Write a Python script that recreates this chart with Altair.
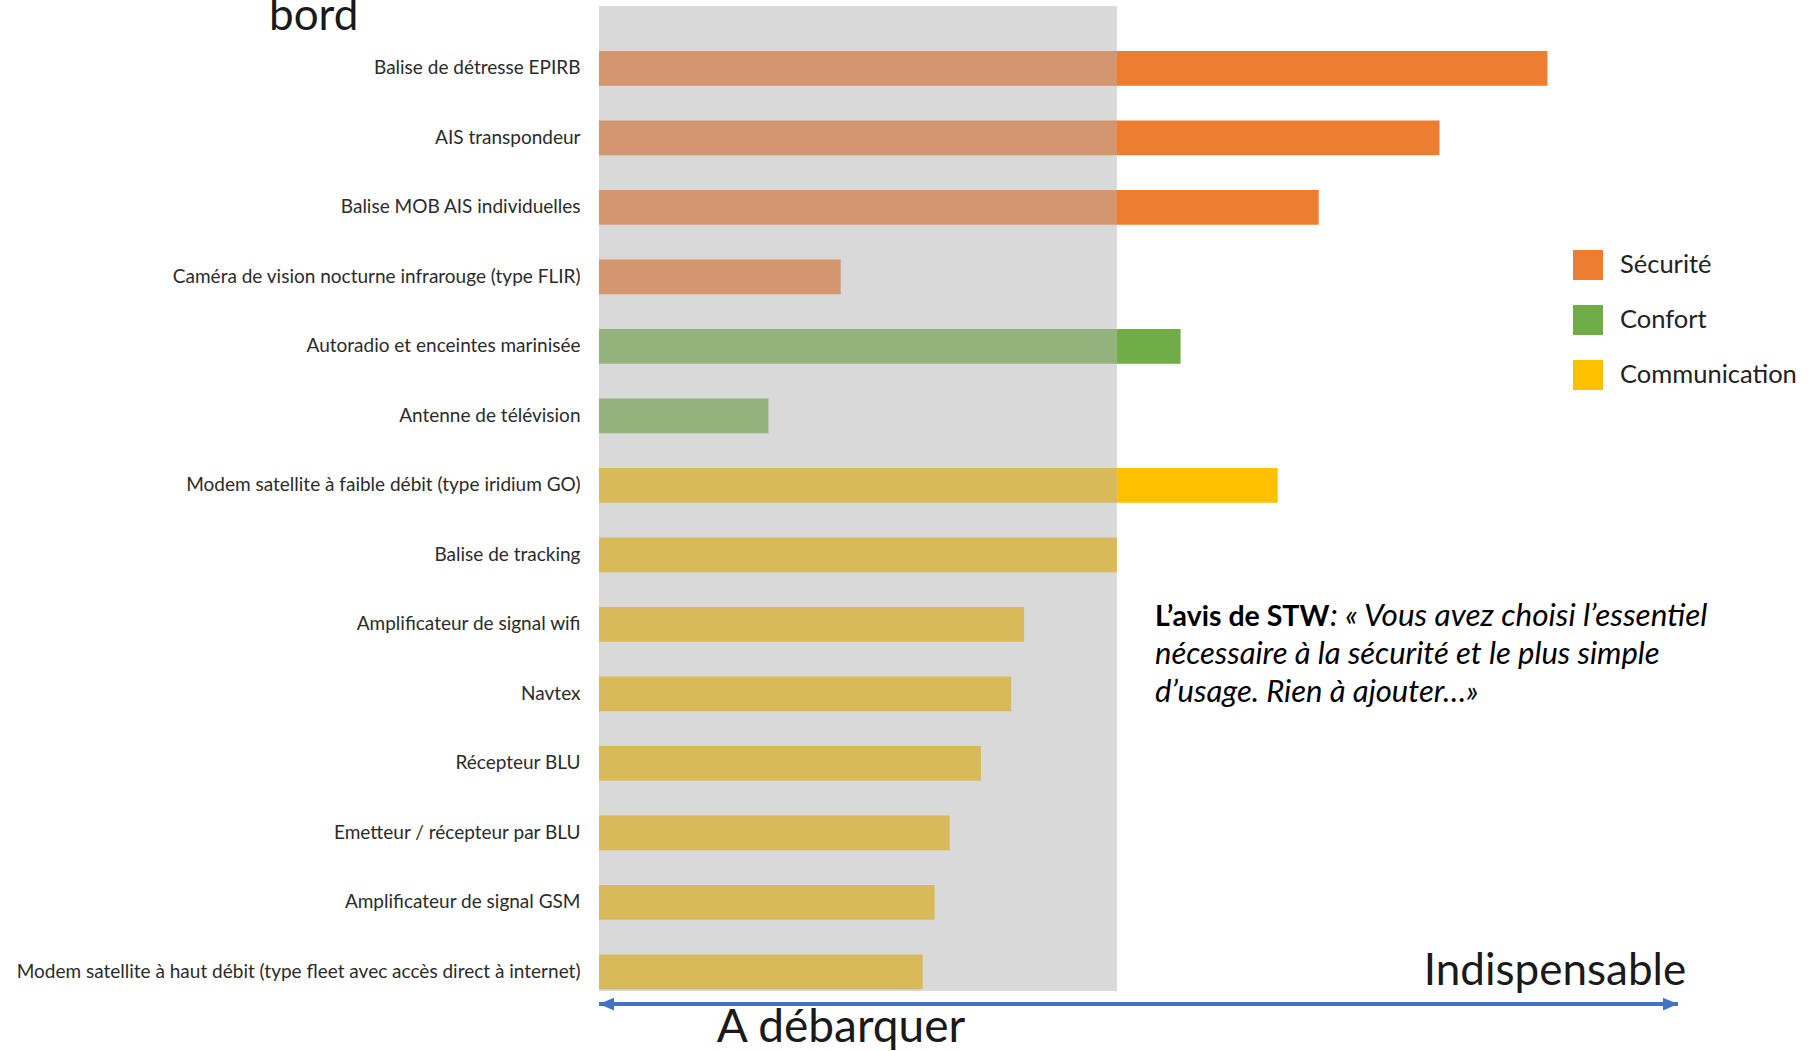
import altair as alt
import pandas as pd

# ---- data -------------------------------------------------------------
items = [
    "Balise de détresse EPIRB",
    "AIS transpondeur",
    "Balise MOB AIS individuelles",
    "Caméra de vision nocturne infrarouge (type FLIR)",
    "Autoradio et enceintes marinisée",
    "Antenne de télévision",
    "Modem satellite à faible débit (type iridium GO)",
    "Balise de tracking",
    "Amplificateur de signal wifi",
    "Navtex",
    "Récepteur BLU",
    "Emetteur / récepteur par BLU",
    "Amplificateur de signal GSM",
    "Modem satellite à haut débit (type fleet avec accès direct à internet)",
]
groups = [
    "Sécurité", "Sécurité", "Sécurité", "Sécurité",
    "Confort", "Confort",
    "Communication", "Communication", "Communication", "Communication",
    "Communication", "Communication", "Communication", "Communication",
]
scores = [87.9, 77.9, 66.7, 22.4, 53.9, 15.7, 62.9, 48.0, 39.4, 38.2, 35.4, 32.5, 31.1, 30.0]
threshold = 48.0          # end of the grey "A débarquer" zone
axis_max = 100.0          # end of the arrow ("Indispensable")

legend_groups = ["Sécurité", "Confort", "Communication"]
bright_colors = ["#ED7D31", "#70AD47", "#FFC000"]
muted_colors = ["#D4966F", "#93B27C", "#D8BA5A"]

quote_bold = "L’avis de STW"
quote_line1 = ": « Vous avez choisi l’essentiel"
quote_line2 = "nécessaire à la sécurité et le plus simple"
quote_line3 = "d’usage. Rien à ajouter…»"

W, H = 1079, 985
ARROW_Y = 998

# ---- tables -----------------------------------------------------------
muted = pd.DataFrame({
    "item": items,
    "group": groups,
    "x0": [0.0] * len(items),
    "x1": [min(v, threshold) for v in scores],
})
bright = pd.DataFrame({
    "item": [i for i, v in zip(items, scores) if v > threshold],
    "group": [g for g, v in zip(groups, scores) if v > threshold],
    "x0": [threshold for v in scores if v > threshold],
    "x1": [v for v in scores if v > threshold],
})
zone = pd.DataFrame({"x0": [0.0], "x1": [threshold]})
arrow = pd.DataFrame({"x0": [0.0], "x1": [axis_max]})
# arrow heads: tip of each head sits on the symbol's anchor point
heads = pd.DataFrame({
    "x": [0.0, axis_max],
    "shape": ["M0,0L2,-0.85L2,0.85Z", "M0,0L-2,-0.85L-2,0.85Z"],
})

xscale = alt.Scale(domain=[0, axis_max], range=[0, W], nice=False, zero=False)
yscale = alt.Scale(paddingInner=0.5, paddingOuter=0.337, align=0.96)
LABEL_FONT = "Lato"
DECO_FONT = "Lato"

grey = alt.Chart(zone).mark_rect(color="#D9D9D9").encode(
    x=alt.X("x0:Q", scale=xscale, axis=None),
    x2="x1:Q",
    y=alt.value(0),
    y2=alt.value(H),
)

muted_bars = alt.Chart(muted).mark_bar().encode(
    y=alt.Y("item:N", sort=items, scale=yscale, title=None,
            axis=alt.Axis(domain=False, ticks=False, labelPadding=19,
                          labelFont=LABEL_FONT, labelFontSize=19,
                          labelColor="#2b2b2b", labelLimit=700)),
    x=alt.X("x0:Q", scale=xscale, axis=None),
    x2="x1:Q",
    color=alt.Color("group:N", scale=alt.Scale(domain=legend_groups, range=muted_colors),
                    legend=None),
)

bright_bars = alt.Chart(bright).mark_bar().encode(
    y=alt.Y("item:N", sort=items, scale=yscale, title=None),
    x=alt.X("x0:Q", scale=xscale, axis=None),
    x2="x1:Q",
    color=alt.Color("group:N", scale=alt.Scale(domain=legend_groups, range=bright_colors),
                    title=None,
                    legend=alt.Legend(orient="none", legendX=974, legendY=244,
                                      symbolType="square", symbolSize=900,
                                      symbolStrokeWidth=0, symbolOpacity=1,
                                      labelFont=DECO_FONT, labelFontSize=25.5,
                                      labelColor="#222222", labelOffset=17,
                                      rowPadding=25, labelLimit=400)),
)

arrow_line = alt.Chart(arrow).mark_rule(color="#4472C4", strokeWidth=4).encode(
    x=alt.X("x0:Q", scale=xscale, axis=None),
    x2="x1:Q",
    y=alt.value(ARROW_Y),
)
arrow_heads = alt.Chart(heads).mark_point(filled=True, color="#4472C4", opacity=1,
                                          strokeWidth=0, size=225).encode(
    x=alt.X("x:Q", scale=xscale, axis=None),
    y=alt.value(ARROW_Y),
    shape=alt.Shape("shape:N", scale=None, legend=None),
)


def label(txt, x, y, size, align="left", weight="normal", style="normal",
          font=DECO_FONT, color="#1a1a1a"):
    return alt.Chart(pd.DataFrame({"t": [txt]})).mark_text(
        align=align, baseline="middle", font=font, fontSize=size,
        fontWeight=weight, fontStyle=style, color=color,
    ).encode(x=alt.value(x), y=alt.value(y), text="t:N")


texts = [
    label("bord", -330, 11, 44),
    label("Indispensable", 956, 966, 44, align="center"),
    label("A débarquer", 242, 1022, 46, align="center"),
    label(quote_bold, 556, 611, 28.5, weight="bold", font=LABEL_FONT, color="#000000"),
    label(quote_line1, 731, 611, 31.5, style="italic", font=LABEL_FONT, color="#000000"),
    label(quote_line2, 556, 649, 31, style="italic", font=LABEL_FONT, color="#000000"),
    label(quote_line3, 556, 687, 31, style="italic", font=LABEL_FONT, color="#000000"),
]

chart = alt.layer(grey, muted_bars, bright_bars, arrow_line, arrow_heads, *texts).resolve_scale(
    color="independent"
).properties(
    width=W, height=H,
    autosize=alt.AutoSizeParams(type="none"),
    padding={"left": 599, "top": 6, "right": 140, "bottom": 60},
    background="#FFFFFF",
).configure_view(stroke=None)

chart.save("out.html", embed_options={"renderer": "svg", "actions": False})
